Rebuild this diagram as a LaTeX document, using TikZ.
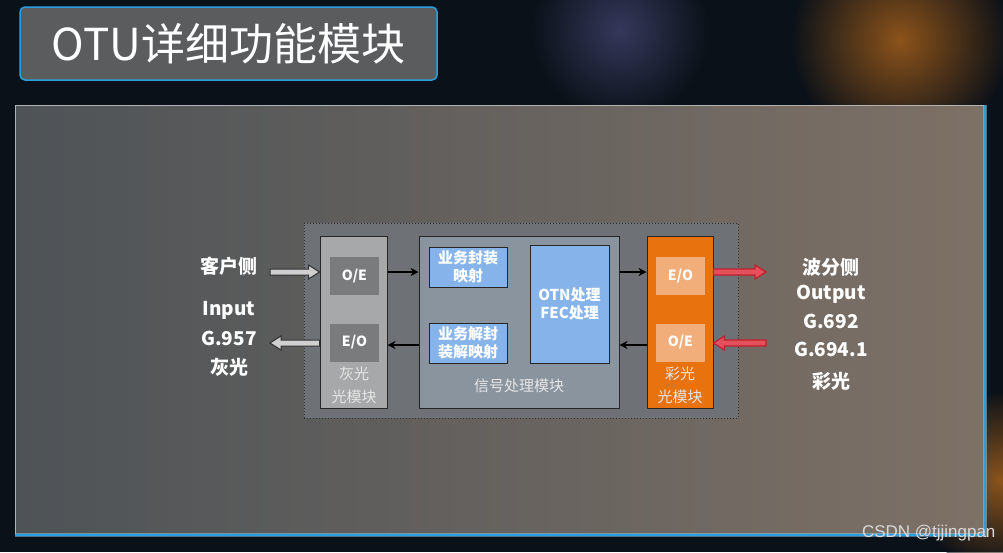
\documentclass[tikz,border=0pt]{standalone}
\usepackage{fontspec}
\setmainfont{Noto Sans CJK SC}
\newfontfamily\wmfont{Liberation Sans}
\usetikzlibrary{arrows.meta,calc}
\definecolor{bgdark}{HTML}{0B1118}
\definecolor{titlefill}{HTML}{5A5C5E}
\definecolor{glowblue}{HTML}{2A9FE0}
\definecolor{outerbox}{HTML}{6E7276}
\definecolor{greymod}{HTML}{A7A8A9}
\definecolor{greycell}{HTML}{7A7B7C}
\definecolor{sigmod}{HTML}{8A949E}
\definecolor{bluecell}{HTML}{86B4EA}
\definecolor{orangemod}{HTML}{E8720E}
\definecolor{orangecell}{HTML}{F2AE7A}
\definecolor{redarrow}{HTML}{C0202C}
\definecolor{pinkarrow}{HTML}{E4505C}
\definecolor{arrowedge}{HTML}{2E3032}
\definecolor{arrowfill}{HTML}{CFCFCF}
\definecolor{panelL}{HTML}{4E5357}
\definecolor{panelM}{HTML}{6B7681}
\definecolor{panelR}{HTML}{7E7166}
\tikzset{
  modbox/.style={draw=black!85, line width=1pt, minimum width=#1, minimum height=172pt, inner sep=0pt},
  cell/.style={line width=0.6pt, minimum width=49pt, minimum height=38pt, inner sep=0pt, text=white, font=\bfseries\fontsize{14}{16}\selectfont},
  bluebox/.style={draw=black!85, line width=1pt, fill=bluecell, inner sep=0pt, text=white, align=center, font=\bfseries\fontsize{15}{18}\selectfont},
  modlabel/.style={text=white!90!black, font=\fontsize{15}{23}\selectfont, align=center},
  sidelabel/.style={text=white, font=\bfseries\fontsize{19}{22}\selectfont},
  blackarrow/.style={draw=black, line width=1.5pt, -{Stealth[length=8pt,width=8pt]}},
  greyblock/.style={draw=arrowedge, fill=arrowfill, line width=1pt, line join=miter},
  redblock/.style={draw=redarrow, fill=pinkarrow, line width=1.2pt, line join=miter},
}
% block arrow connector: style, start coordinate, tip coordinate (horizontal)
\newcommand\blkarr[3]{%
  \draw[#1] ($(#2)+(0,-3)$) -- ($(#3)!11pt!(#2)+(0,-3)$) -- ($(#3)!11pt!(#2)+(0,-7)$)
    -- (#3) -- ($(#3)!11pt!(#2)+(0,7)$) -- ($(#3)!11pt!(#2)+(0,3)$) -- ($(#2)+(0,3)$) -- cycle;}
\begin{document}
\begin{tikzpicture}[x=1pt,y=-1pt]
\useasboundingbox (0,0) rectangle (1003,552);
% background
\fill[bgdark] (0,0) rectangle (1003,552);
\shade[inner color=orange!55!brown, outer color=bgdark, opacity=0.6] (900,40) circle (110);
\shade[inner color=blue!25!gray, outer color=bgdark, opacity=0.5] (620,30) circle (90);
\shade[inner color=orange!50!brown, outer color=bgdark, opacity=0.6] (1000,480) circle (90);
% main panel
\shade[left color=panelL, middle color=panelM, right color=panelR]
  (15,105) rectangle (985,535);
\draw[gray!60, line width=0.8pt] (15,535) -- (15,105) -- (985,105);
\draw[glowblue!50, line width=4pt, opacity=0.5] (15,535) -- (985,535) -- (985,105);
\draw[glowblue, line width=1.5pt] (15,535) -- (985,535) -- (985,105);
% title
\node[draw=glowblue, line width=1.5pt, fill=titlefill, rounded corners=5pt,
      minimum width=417pt, minimum height=73pt, inner sep=0pt,
      text=white, font=\fontsize{44}{48}\selectfont] (title) at (228.5,43.5) {OTU详细功能模块};
% dotted outer
\node[draw=black!80, dotted, line width=1pt, fill=outerbox, minimum width=434pt, minimum height=195pt, inner sep=0pt] (outer) at (521,320.5) {};
% grey module
\node[modbox=67pt, fill=greymod] (gm) at (353.5,322) {};
\node[cell, fill=greycell] (goe) at (354.5,276) {O/E};
\node[cell, fill=greycell] (geo) at (354.5,342.5) {E/O};
\node[modlabel] (glab) at (354,385) {灰光\\光模块};
% signal module
\node[modbox=200pt, fill=sigmod] (sm) at (519,322) {};
\node[bluebox, minimum width=78pt, minimum height=40pt] (enc) at (468,267) {业务封装\\映射};
\node[bluebox, minimum width=78pt, minimum height=40pt] (dec) at (468,343) {业务解封\\装解映射};
\node[bluebox, minimum width=79pt, minimum height=118pt] (otn) at (569.5,304) {OTN处理\\FEC处理};
\node[modlabel] (slab) at (519,386) {信号处理模块};
% orange module
\node[modbox=66pt, fill=orangemod] (om) at (680,322) {};
\node[cell, fill=orangecell] (oeo) at (680.5,276) {E/O};
\node[cell, fill=orangecell] (ooe) at (680.5,342.5) {O/E};
\node[modlabel] (olab) at (680,385) {彩光\\光模块};
% internal arrows
\draw[blackarrow] (gm.east |- 0,272) -- (sm.west |- 0,272);
\draw[blackarrow] (sm.west |- 0,345) -- (gm.east |- 0,345);
\draw[blackarrow] (sm.east |- 0,272) -- (om.west |- 0,272);
\draw[blackarrow] (om.west |- 0,345) -- (sm.east |- 0,345);
% side labels
\node[sidelabel] (client) at (229,266) {客户侧};
\node[sidelabel] (in1) at (229,310) {Input};
\node[sidelabel] (in2) at (229,338) {G.957};
\node[sidelabel] (in3) at (229,367) {灰光};
\node[sidelabel] (wdm) at (831,267) {波分侧};
\node[sidelabel] (out1) at (831,294) {Output};
\node[sidelabel] (out2) at (831,321) {G.692};
\node[sidelabel] (out3) at (831,349) {G.694.1};
\node[sidelabel] (out4) at (831,381) {彩光};
% external arrows
\coordinate (lin) at (270,272);
\coordinate (lout) at (270,343);
\coordinate (rout) at (766,272);
\coordinate (rin) at (766,343);
\coordinate (gmin) at (gm.west |- lin);
\coordinate (gmout) at (gm.west |- lout);
\coordinate (omout) at (om.east |- rout);
\coordinate (omin) at (om.east |- rin);
\blkarr{greyblock}{lin}{gmin}
\blkarr{greyblock}{gmout}{lout}
\blkarr{redblock}{omout}{rout}
\blkarr{redblock}{rin}{omin}
% watermark
\node[text=white!85!black, font=\wmfont\fontsize{17}{19}\selectfont, anchor=east] (wm) at (999,533) {CSDN @tjjingpan};
\end{tikzpicture}
\end{document}
